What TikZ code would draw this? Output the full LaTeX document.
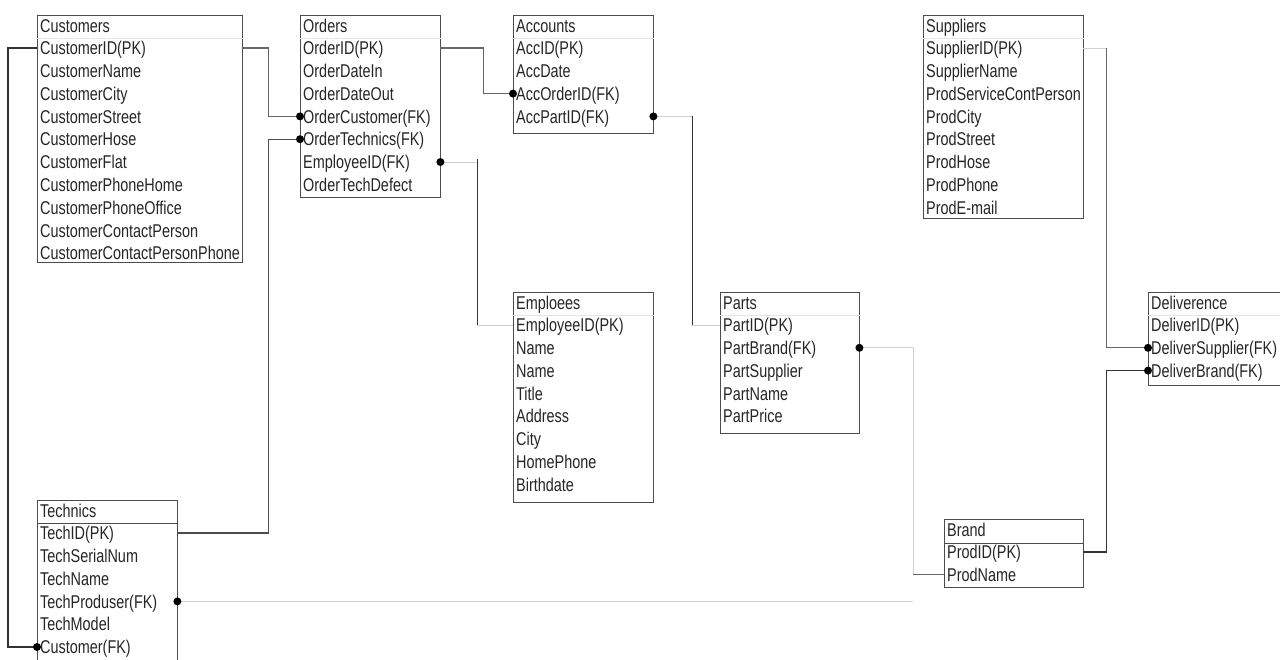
\documentclass[tikz,border=0pt]{standalone}
\usepackage{fontspec}
\setmainfont{Liberation Sans}[FakeStretch=0.78]
\usepackage{xcolor}
\usepackage{tikz}
\usetikzlibrary{calc}
\newcommand{\erfont}{\fontsize{18.5}{21}\selectfont}

\begin{document}
\begin{tikzpicture}[
        x=1pt, y=-1pt,
        tabbox/.style={draw=black!70, line width=1pt, inner sep=0pt, anchor=north west},
        tabhead/.style={anchor=west, inner xsep=3pt, inner ysep=0pt, text height=13.3pt, text depth=0pt, font=\erfont, text=black!85},
        field/.style={anchor=west, inner xsep=3pt, inner ysep=0pt, align=left, text height=13.3pt, text depth=0pt, font=\erfont, text=black!85},
        hsep/.style={draw=black!10, line width=1pt},
        link/.style={draw=black!60, line width=1.2pt},
        faint/.style={draw=black!18, line width=1pt}
    ]
        \fill[white] (0,0) rectangle (1280,659);
        \useasboundingbox (0,0) rectangle (1280,659);

        % Customers
        \node[tabbox, minimum width=205pt, minimum height=247pt] (cust) at (37,15) {};
        \node[tabhead] (cust-0) at ([yshift=-11pt]cust.north west) {Customers};
        \draw[hsep] ([yshift=-23pt]cust.north west) -- ([yshift=-23pt]cust.north east);
        \foreach \f [count=\i] in {CustomerID(PK), CustomerName, CustomerCity, CustomerStreet, CustomerHose, CustomerFlat, CustomerPhoneHome, CustomerPhoneOffice, CustomerContactPerson, CustomerContactPersonPhone}
            \node[field, text width=199pt] (cust-\i) at ([yshift={-(10.2+22.8*\i)*1pt}]cust.north west) {\f};

        % Orders
        \node[tabbox, minimum width=140pt, minimum height=182pt] (ord) at (300,15) {};
        \node[tabhead] (ord-0) at ([yshift=-11pt]ord.north west) {Orders};
        \draw[hsep] ([yshift=-23pt]ord.north west) -- ([yshift=-23pt]ord.north east);
        \foreach \f [count=\i] in {OrderID(PK), OrderDateIn, OrderDateOut, OrderCustomer(FK), OrderTechnics(FK), EmployeeID(FK), OrderTechDefect}
            \node[field, text width=134pt] (ord-\i) at ([yshift={-(10.2+22.8*\i)*1pt}]ord.north west) {\f};

        % Accounts
        \node[tabbox, minimum width=140pt, minimum height=118pt] (acc) at (513,15) {};
        \node[tabhead] (acc-0) at ([yshift=-11pt]acc.north west) {Accounts};
        \draw[hsep] ([yshift=-23pt]acc.north west) -- ([yshift=-23pt]acc.north east);
        \foreach \f [count=\i] in {AccID(PK), AccDate, AccOrderID(FK), AccPartID(FK)}
            \node[field, text width=134pt] (acc-\i) at ([yshift={-(10.2+22.8*\i)*1pt}]acc.north west) {\f};

        % Suppliers
        \node[tabbox, minimum width=160pt, minimum height=203pt] (supp) at (923,15) {};
        \node[tabhead] (supp-0) at ([yshift=-11pt]supp.north west) {Suppliers};
        \draw[hsep] ([yshift=-23pt]supp.north west) -- ([yshift=-23pt]supp.north east);
        \foreach \f [count=\i] in {SupplierID(PK), SupplierName, ProdServiceContPerson, ProdCity, ProdStreet, ProdHose, ProdPhone, ProdE-mail}
            \node[field, text width=154pt] (supp-\i) at ([yshift={-(10.2+22.8*\i)*1pt}]supp.north west) {\f};

        % Emploees
        \node[tabbox, minimum width=140pt, minimum height=210pt] (emp) at (513,292) {};
        \node[tabhead] (emp-0) at ([yshift=-11pt]emp.north west) {Emploees};
        \draw[hsep] ([yshift=-23pt]emp.north west) -- ([yshift=-23pt]emp.north east);
        \foreach \f [count=\i] in {EmployeeID(PK), Name, Name, Title, Address, City, HomePhone, Birthdate}
            \node[field, text width=134pt] (emp-\i) at ([yshift={-(10.2+22.8*\i)*1pt}]emp.north west) {\f};

        % Parts
        \node[tabbox, minimum width=139pt, minimum height=141pt] (parts) at (720,292) {};
        \node[tabhead] (parts-0) at ([yshift=-11pt]parts.north west) {Parts};
        \draw[hsep] ([yshift=-23pt]parts.north west) -- ([yshift=-23pt]parts.north east);
        \foreach \f [count=\i] in {PartID(PK), PartBrand(FK), PartSupplier, PartName, PartPrice}
            \node[field, text width=133pt] (parts-\i) at ([yshift={-(10.2+22.8*\i)*1pt}]parts.north west) {\f};

        % Deliverence
        \node[tabbox, minimum width=140pt, minimum height=93pt] (deliv) at (1148,292) {};
        \node[tabhead] (deliv-0) at ([yshift=-11pt]deliv.north west) {Deliverence};
        \draw[hsep] ([yshift=-23pt]deliv.north west) -- ([yshift=-23pt]deliv.north east);
        \foreach \f [count=\i] in {DeliverID(PK), DeliverSupplier(FK), DeliverBrand(FK)}
            \node[field, text width=134pt] (deliv-\i) at ([yshift={-(10.2+22.8*\i)*1pt}]deliv.north west) {\f};

        % Brand
        \node[tabbox, minimum width=139pt, minimum height=68pt] (brand) at (944,519) {};
        \node[tabhead] (brand-0) at ([yshift=-11pt]brand.north west) {Brand};
        \draw[black!70, line width=1pt] ([yshift=-24pt]brand.north west) -- ([yshift=-24pt]brand.north east);
        \foreach \f [count=\i] in {ProdID(PK), ProdName}
            \node[field, text width=133pt] (brand-\i) at ([yshift={-(10.2+22.8*\i)*1pt}]brand.north west) {\f};

        % Technics
        \node[tabbox, minimum width=140pt, minimum height=162pt] (tech) at (37,500) {};
        \node[tabhead] (tech-0) at ([yshift=-11pt]tech.north west) {Technics};
        \draw[black!70, line width=1pt] ([yshift=-23pt]tech.north west) -- ([yshift=-23pt]tech.north east);
        \foreach \f [count=\i] in {TechID(PK), TechSerialNum, TechName, TechProduser(FK), TechModel, Customer(FK)}
            \node[field, text width=134pt] (tech-\i) at ([yshift={-(10.2+22.8*\i)*1pt}]tech.north west) {\f};

        % relations
        \draw[link, draw=black!80] (cust-1.west) -- ++(-29,0) |- (tech-6.west);
        \draw[link] (cust-1.east) -- ++(26,0) |- (ord-4.west);
        \draw[link, draw=black!70] (tech-1.east) -- ++(91,0) |- (ord-5.west);
        \draw[link] (ord-1.east) -- ++(43,0) |- (acc-3.west);
        \draw[faint] (ord-6.east) -- ++(37,0) coordinate (e5);
        \draw[link, draw=black!80] ([yshift=3pt]e5) -- (e5 |- emp-1.west);
        \draw[faint] (e5 |- emp-1.west) -- (emp-1.west);
        \draw[faint] (acc-4.east) -- ++(39,0) coordinate (e6);
        \draw[link, draw=black!80] (e6) -- (e6 |- parts-1.west);
        \draw[faint] (e6 |- parts-1.west) -- (parts-1.west);
        \draw[faint] (parts-2.east) -- ++(54,0) coordinate (e7) -- (e7 |- brand-2.west);
        \draw[link] (e7 |- brand-2.west) -- (brand-2.west);
        \draw[faint] (tech-4.east) -- (tech-4.east -| e7);
        \draw[faint] (supp-1.east) -- ++(23,0) coordinate (e9);
        \draw[link] (e9) |- (deliv-2.west);
        \draw[link, draw=black!80] (brand-1.east) -- ++(23,0) |- (deliv-3.west);

        % foreign key dots
        \foreach \p in {ord-4.west, ord-5.west, acc-3.west, ord-6.east, acc-4.east, parts-2.east, tech-4.east, tech-6.west, deliv-2.west, deliv-3.west}
            \fill (\p) circle (4pt);
    \end{tikzpicture}
\end{document}
